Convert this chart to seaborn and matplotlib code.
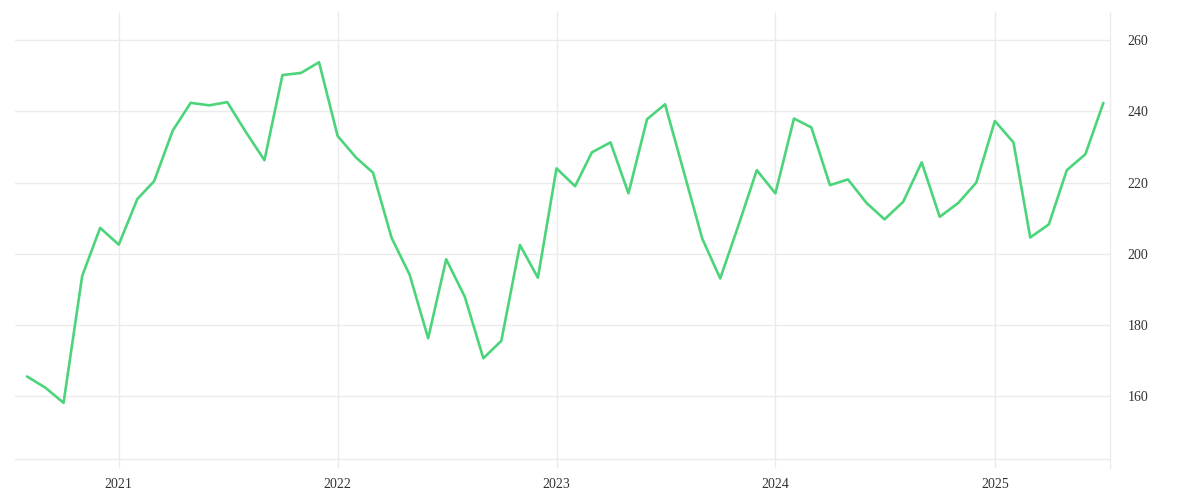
import matplotlib
matplotlib.use("Agg")
import matplotlib.pyplot as plt
import seaborn as sns
import pandas as pd

# Monthly values, Aug 2020 .. Jul 2025
start_month = "2020-08-01"
values = [
    165.6, 162.4, 158.2, 193.8, 207.3,
    202.6, 215.4, 220.4, 234.6, 242.4, 241.7, 242.6, 234.2, 226.3, 250.2, 250.8, 253.8,
    233.1, 227.0, 222.8, 204.5, 194.2, 176.3, 198.5, 188.0, 170.7, 175.6, 202.5, 193.3,
    224.0, 219.0, 228.5, 231.3, 217.0, 237.8, 242.0, 223.2, 204.3, 193.1, 208.3, 223.5,
    217.0, 238.0, 235.5, 219.3, 220.9, 214.3, 209.7, 214.6, 225.7, 210.4, 214.3, 220.0,
    237.3, 231.3, 204.6, 208.3, 223.5, 228.0, 242.4,
]
dates = pd.date_range(start_month, periods=len(values), freq="MS")
year_ticks = pd.to_datetime(["2021-01-01", "2022-01-01", "2023-01-01", "2024-01-01", "2025-01-01"])
year_labels = ["2021", "2022", "2023", "2024", "2025"]
y_ticks = [160, 180, 200, 220, 240, 260]

df = pd.DataFrame({"date": dates, "value": values})

sns.set_theme(style="white")
plt.rcParams["font.family"] = ["Liberation Serif", "DejaVu Serif"]

grid_c = "#ebebeb"
fig = plt.figure(figsize=(12, 5), dpi=100)
ax = fig.add_axes([15 / 1200, 1 - 468 / 500, (1110 - 15) / 1200, (468 - 12) / 500])

ax.set_xlim(pd.Timestamp("2020-07-12"), pd.Timestamp("2025-07-12"))
ax.set_ylim(139.9, 267.9)

for t in y_ticks:
    ax.axhline(t, color=grid_c, lw=1, zorder=0)
ax.axhline(142.5, color=grid_c, lw=1, zorder=0)
for t in year_ticks:
    ax.axvline(t, color=grid_c, lw=1, zorder=0)

sns.lineplot(data=df, x="date", y="value", ax=ax, color="#4cd47b", lw=1.9, zorder=3)

for s in ["top", "left", "bottom"]:
    ax.spines[s].set_visible(False)
ax.spines["right"].set_color(grid_c)
ax.spines["right"].set_linewidth(1)

ax.set_xticks(year_ticks)
ax.set_xticklabels(year_labels)
ax.set_yticks(y_ticks)
ax.set_yticklabels([str(v) for v in y_ticks])
ax.yaxis.tick_right()
ax.tick_params(axis="both", length=0, labelsize=10, labelcolor="#333333")
ax.tick_params(axis="y", pad=12.5)
ax.tick_params(axis="x", pad=7.5)
ax.set_xlabel("")
ax.set_ylabel("")

fig.savefig("out.png", dpi=100)
